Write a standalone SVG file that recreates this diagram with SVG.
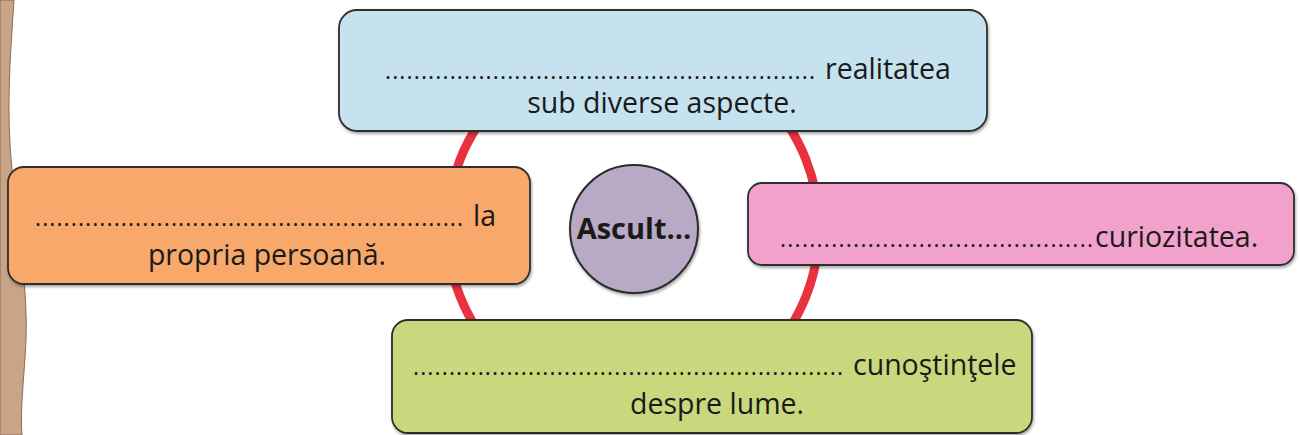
<svg xmlns="http://www.w3.org/2000/svg" width="1300" height="435" viewBox="0 0 1300 435">
<defs>
<style>
.box{stroke:#2e2e2e;stroke-width:1.8}
.t{font-family:"Open Sans","Noto Sans","DejaVu Sans",sans-serif;font-size:28.5px;fill:#1a1a1a}
.d{font-family:"Open Sans","Noto Sans","DejaVu Sans",sans-serif;font-size:23px;fill:#1a1a1a}
.b{font-family:"Open Sans","Noto Sans","DejaVu Sans",sans-serif;font-size:29px;font-weight:bold;fill:#1a1a1a}
</style>
<filter id="sh" x="-5%" y="-5%" width="110%" height="120%">
<feDropShadow dx="1" dy="2" stdDeviation="1.5" flood-color="#000" flood-opacity="0.35"/>
</filter>
</defs>
<rect width="1300" height="435" fill="#ffffff"/>
<path d="M0 0 L14 0 C10 60 6 110 12 170 C18 230 28 290 26 340 C24 380 20 410 22 435 L0 435 Z" fill="#c9a487" stroke="#8a6a52" stroke-width="1"/>
<g id="connectors">
<circle cx="633" cy="228" r="186" fill="none" stroke="#e8323e" stroke-width="9"/>
</g>
<g id="node-top">
<rect class="box" x="339" y="10" width="648" height="121" rx="18" fill="#c5e2ee" filter="url(#sh)"/>
<text class="d" x="385" y="79" textLength="430" lengthAdjust="spacing">............................................................</text>
<text class="t" x="825" y="79">realitatea</text>
<text class="t" x="662" y="113" text-anchor="middle">sub diverse aspecte.</text>
</g>
<g id="node-left">
<rect class="box" x="8" y="167" width="522" height="117" rx="16" fill="#f8a86a" filter="url(#sh)"/>
<text class="d" x="35" y="226" textLength="428" lengthAdjust="spacing">............................................................</text>
<text class="t" x="473" y="226">la</text>
<text class="t" x="267" y="265" text-anchor="middle">propria persoană.</text>
</g>
<g id="node-right">
<rect class="box" x="748" y="183" width="546" height="82" rx="14" fill="#f2a1cc" filter="url(#sh)"/>
<text class="d" x="780" y="247" textLength="313" lengthAdjust="spacing">...........................................</text>
<text class="t" x="1095" y="247">curiozitatea.</text>
</g>
<g id="node-bottom">
<rect class="box" x="392" y="320" width="640" height="113" rx="16" fill="#c9d87c" filter="url(#sh)"/>
<text class="d" x="413" y="375" textLength="430" lengthAdjust="spacing">............................................................</text>
<text class="t" x="853" y="375">cunoştinţele</text>
<text class="t" x="717" y="414" text-anchor="middle">despre lume.</text>
</g>
<g id="node-center">
<circle cx="634" cy="229" r="64" fill="#b8aac5" stroke="#2a2a2a" stroke-width="2" filter="url(#sh)"/>
<text class="b" x="634" y="239" text-anchor="middle">Ascult...</text>
</g>
</svg>
